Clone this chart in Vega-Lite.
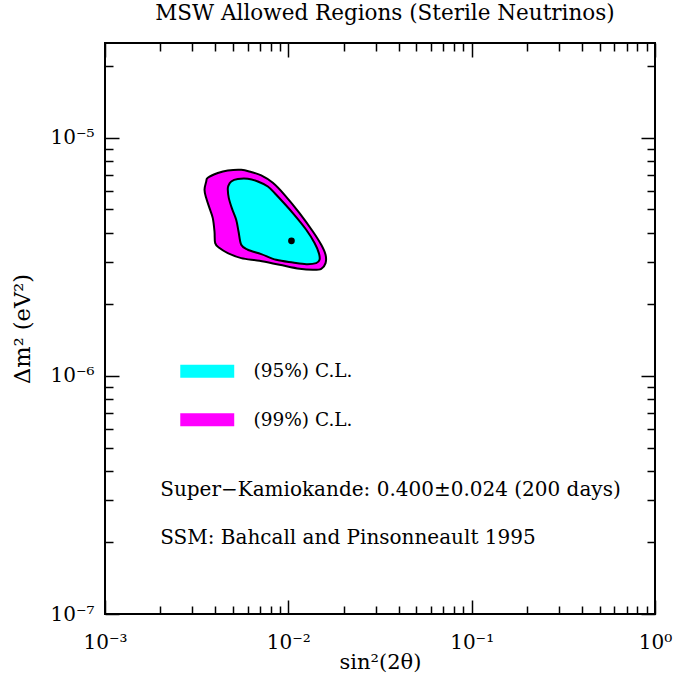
{
  "$schema": "https://vega.github.io/schema/vega-lite/v6.json",
  "width": 550,
  "height": 571,
  "autosize": {"type": "none"},
  "padding": {"left": 105, "top": 43, "right": 19, "bottom": 63},
  "background": "white",
  "title": {
    "text": "MSW Allowed Regions (Sterile Neutrinos)",
    "font": "DejaVu Serif",
    "fontSize": 21.5,
    "fontWeight": "normal",
    "color": "black",
    "anchor": "middle",
    "baseline": "alphabetic",
    "offset": 1,
    "dx": 5
  },
  "config": {
    "view": {"stroke": "black", "strokeWidth": 2},
    "font": "DejaVu Serif"
  },
  "resolve": {"axis": {"x": "independent", "y": "independent"}},
  "layer": [
    {
      "data": {
        "values": [
          {"i": 1, "x": 0.00349, "y": 6.048e-6, "cl": "(99%) C.L."},
          {"i": 2, "x": 0.003565, "y": 6.553e-6, "cl": "(99%) C.L."},
          {"i": 3, "x": 0.003637, "y": 6.791e-6, "cl": "(99%) C.L."},
          {"i": 4, "x": 0.004124, "y": 7.108e-6, "cl": "(99%) C.L."},
          {"i": 5, "x": 0.004675, "y": 7.288e-6, "cl": "(99%) C.L."},
          {"i": 6, "x": 0.005534, "y": 7.337e-6, "cl": "(99%) C.L."},
          {"i": 7, "x": 0.006274, "y": 7.177e-6, "cl": "(99%) C.L."},
          {"i": 8, "x": 0.007116, "y": 6.945e-6, "cl": "(99%) C.L."},
          {"i": 9, "x": 0.008229, "y": 6.47e-6, "cl": "(99%) C.L."},
          {"i": 10, "x": 0.009535, "y": 5.761e-6, "cl": "(99%) C.L."},
          {"i": 11, "x": 0.01151, "y": 4.827e-6, "cl": "(99%) C.L."},
          {"i": 12, "x": 0.01361, "y": 4.04e-6, "cl": "(99%) C.L."},
          {"i": 13, "x": 0.01512, "y": 3.552e-6, "cl": "(99%) C.L."},
          {"i": 14, "x": 0.01596, "y": 3.225e-6, "cl": "(99%) C.L."},
          {"i": 15, "x": 0.01596, "y": 2.976e-6, "cl": "(99%) C.L."},
          {"i": 16, "x": 0.01512, "y": 2.816e-6, "cl": "(99%) C.L."},
          {"i": 17, "x": 0.01361, "y": 2.789e-6, "cl": "(99%) C.L."},
          {"i": 18, "x": 0.01151, "y": 2.816e-6, "cl": "(99%) C.L."},
          {"i": 19, "x": 0.008954, "y": 2.927e-6, "cl": "(99%) C.L."},
          {"i": 20, "x": 0.006965, "y": 3.042e-6, "cl": "(99%) C.L."},
          {"i": 21, "x": 0.005534, "y": 3.123e-6, "cl": "(99%) C.L."},
          {"i": 22, "x": 0.004675, "y": 3.278e-6, "cl": "(99%) C.L."},
          {"i": 23, "x": 0.004213, "y": 3.441e-6, "cl": "(99%) C.L."},
          {"i": 24, "x": 0.003991, "y": 3.611e-6, "cl": "(99%) C.L."},
          {"i": 25, "x": 0.003956, "y": 4.04e-6, "cl": "(99%) C.L."},
          {"i": 26, "x": 0.003872, "y": 4.599e-6, "cl": "(99%) C.L."},
          {"i": 27, "x": 0.003716, "y": 5.065e-6, "cl": "(99%) C.L."},
          {"i": 28, "x": 0.003565, "y": 5.579e-6, "cl": "(99%) C.L."}
        ]
      },
      "mark": {"type": "line", "interpolate": "cardinal-closed", "stroke": "black", "strokeWidth": 2},
      "encoding": {
        "x": {
          "field": "x", "type": "quantitative",
          "scale": {"type": "log", "domain": [0.001, 1], "nice": false},
          "axis": {
            "orient": "bottom",
            "values": [0.001, 0.002, 0.003, 0.004, 0.005, 0.006, 0.007, 0.008, 0.009, 0.01, 0.02, 0.03, 0.04, 0.05, 0.06, 0.07, 0.08, 0.09, 0.1, 0.2, 0.3, 0.4, 0.5, 0.6, 0.7, 0.8, 0.9, 1],
            "domain": false, "grid": false,
            "tickColor": "black", "tickWidth": 1.5,
            "tickSize": {"condition": {"test": "abs(log(datum.value)/LN10 - round(log(datum.value)/LN10)) < 0.001", "value": -14}, "value": -8},
            "labelExpr": "abs(log(datum.value)/LN10 - round(log(datum.value)/LN10)) < 0.001 ? '10' + ['⁻³', '⁻²', '⁻¹', '⁰'][round(log(datum.value)/LN10) + 3] : ''",
            "labelFont": "DejaVu Serif", "labelFontSize": 20, "labelColor": "black",
            "labelOverlap": false, "labelFlush": false, "labelPadding": 32,
            "title": "sin²(2θ)", "titleFont": "DejaVu Serif", "titleFontSize": 21,
            "titleFontWeight": "normal", "titleColor": "black", "titlePadding": -7
          }
        },
        "y": {
          "field": "y", "type": "quantitative",
          "scale": {"type": "log", "domain": [1e-7, 2.5e-5], "nice": false},
          "axis": {
            "orient": "left",
            "values": [1e-7, 2e-7, 3e-7, 4e-7, 5e-7, 6e-7, 7e-7, 8e-7, 9e-7, 1e-6, 2e-6, 3e-6, 4e-6, 5e-6, 6e-6, 7e-6, 8e-6, 9e-6, 1e-5, 2e-5],
            "domain": false, "grid": false,
            "tickColor": "black", "tickWidth": 1.5,
            "tickSize": {"condition": {"test": "abs(log(datum.value)/LN10 - round(log(datum.value)/LN10)) < 0.001", "value": -14}, "value": -8},
            "labelExpr": "abs(log(datum.value)/LN10 - round(log(datum.value)/LN10)) < 0.001 ? '10' + ['⁻⁷', '⁻⁶', '⁻⁵'][round(log(datum.value)/LN10) + 7] : ''",
            "labelFont": "DejaVu Serif", "labelFontSize": 20, "labelColor": "black",
            "labelOverlap": false, "labelFlush": false, "labelPadding": 25,
            "title": "Δm²  (eV²)", "titleFont": "DejaVu Serif", "titleFontSize": 22.5,
            "titleFontWeight": "normal", "titleColor": "black", "titlePadding": 15
          }
        },
        "order": {"field": "i", "type": "quantitative"},
        "fill": {
          "field": "cl", "type": "nominal",
          "scale": {"domain": ["(95%) C.L.", "(99%) C.L."], "range": ["#00ffff", "#ff00ff"]},
          "legend": {
            "orient": "none", "legendX": 93, "legendY": 319, "title": null,
            "symbolType": "M-4.15,-1H4.15V1H-4.15Z", "symbolSize": 169, "symbolStrokeWidth": 0,
            "labelFont": "DejaVu Serif", "labelFontSize": 18.5, "labelColor": "black",
            "labelOffset": 37, "rowPadding": 29.5, "padding": 0
          }
        }
      }
    },
    {
      "data": {
        "values": [
          {"i": 1, "x": 0.004675, "y": 6.048e-6, "cl": "(95%) C.L."},
          {"i": 2, "x": 0.004706, "y": 6.286e-6, "cl": "(95%) C.L."},
          {"i": 3, "x": 0.004881, "y": 6.553e-6, "cl": "(95%) C.L."},
          {"i": 4, "x": 0.005303, "y": 6.707e-6, "cl": "(95%) C.L."},
          {"i": 5, "x": 0.00601, "y": 6.725e-6, "cl": "(95%) C.L."},
          {"i": 6, "x": 0.006818, "y": 6.553e-6, "cl": "(95%) C.L."},
          {"i": 7, "x": 0.007731, "y": 6.244e-6, "cl": "(95%) C.L."},
          {"i": 8, "x": 0.00859, "y": 5.761e-6, "cl": "(95%) C.L."},
          {"i": 9, "x": 0.01058, "y": 4.827e-6, "cl": "(95%) C.L."},
          {"i": 10, "x": 0.01252, "y": 4.107e-6, "cl": "(95%) C.L."},
          {"i": 11, "x": 0.0139, "y": 3.611e-6, "cl": "(95%) C.L."},
          {"i": 12, "x": 0.01467, "y": 3.278e-6, "cl": "(95%) C.L."},
          {"i": 13, "x": 0.0148, "y": 3.072e-6, "cl": "(95%) C.L."},
          {"i": 14, "x": 0.0142, "y": 2.976e-6, "cl": "(95%) C.L."},
          {"i": 15, "x": 0.01252, "y": 2.946e-6, "cl": "(95%) C.L."},
          {"i": 16, "x": 0.01058, "y": 2.993e-6, "cl": "(95%) C.L."},
          {"i": 17, "x": 0.00859, "y": 3.072e-6, "cl": "(95%) C.L."},
          {"i": 18, "x": 0.007116, "y": 3.246e-6, "cl": "(95%) C.L."},
          {"i": 19, "x": 0.00601, "y": 3.385e-6, "cl": "(95%) C.L."},
          {"i": 20, "x": 0.005534, "y": 3.552e-6, "cl": "(95%) C.L."},
          {"i": 21, "x": 0.00535, "y": 4.04e-6, "cl": "(95%) C.L."},
          {"i": 22, "x": 0.005195, "y": 4.524e-6, "cl": "(95%) C.L."},
          {"i": 23, "x": 0.004918, "y": 5.065e-6, "cl": "(95%) C.L."},
          {"i": 24, "x": 0.004735, "y": 5.579e-6, "cl": "(95%) C.L."}
        ]
      },
      "mark": {"type": "line", "interpolate": "cardinal-closed", "stroke": "black", "strokeWidth": 2},
      "encoding": {
        "x": {
          "field": "x", "type": "quantitative",
          "axis": {
            "orient": "top",
            "values": [0.001, 0.002, 0.003, 0.004, 0.005, 0.006, 0.007, 0.008, 0.009, 0.01, 0.02, 0.03, 0.04, 0.05, 0.06, 0.07, 0.08, 0.09, 0.1, 0.2, 0.3, 0.4, 0.5, 0.6, 0.7, 0.8, 0.9, 1],
            "domain": false, "grid": false, "labels": false, "title": null,
            "tickColor": "black", "tickWidth": 1.5,
            "tickSize": {"condition": {"test": "abs(log(datum.value)/LN10 - round(log(datum.value)/LN10)) < 0.001", "value": -14}, "value": -8}
          }
        },
        "y": {
          "field": "y", "type": "quantitative",
          "axis": {
            "orient": "right",
            "values": [1e-7, 2e-7, 3e-7, 4e-7, 5e-7, 6e-7, 7e-7, 8e-7, 9e-7, 1e-6, 2e-6, 3e-6, 4e-6, 5e-6, 6e-6, 7e-6, 8e-6, 9e-6, 1e-5, 2e-5],
            "domain": false, "grid": false, "labels": false, "title": null,
            "tickColor": "black", "tickWidth": 1.5,
            "tickSize": {"condition": {"test": "abs(log(datum.value)/LN10 - round(log(datum.value)/LN10)) < 0.001", "value": -14}, "value": -8}
          }
        },
        "order": {"field": "i", "type": "quantitative"},
        "fill": {
          "field": "cl", "type": "nominal",
          "legend": {
            "orient": "none", "legendX": 93, "legendY": 319, "title": null,
            "symbolType": "M-4.15,-1H4.15V1H-4.15Z", "symbolSize": 169, "symbolStrokeWidth": 0,
            "labelFont": "DejaVu Serif", "labelFontSize": 18.5, "labelColor": "black",
            "labelOffset": 37, "rowPadding": 29.5, "padding": 0
          }
        }
      }
    },
    {
      "data": {"values": [{"x": 0.0104, "y": 3.69e-6}]},
      "mark": {"type": "point", "filled": true, "color": "black", "size": 45, "opacity": 1},
      "encoding": {
        "x": {"field": "x", "type": "quantitative", "axis": null},
        "y": {"field": "y", "type": "quantitative", "axis": null}
      }
    },
    {
      "data": {
        "values": [
          {"x": 0.002, "y": 3.13e-7, "note": "Super−Kamiokande: 0.400±0.024 (200 days)"},
          {"x": 0.002, "y": 1.97e-7, "note": "SSM: Bahcall and Pinsonneault 1995"}
        ]
      },
      "mark": {"type": "text", "align": "left", "baseline": "alphabetic", "font": "DejaVu Serif", "fontSize": 20, "color": "black"},
      "encoding": {
        "x": {"field": "x", "type": "quantitative", "axis": null},
        "y": {"field": "y", "type": "quantitative", "axis": null},
        "text": {"field": "note", "type": "nominal"}
      }
    }
  ]
}
